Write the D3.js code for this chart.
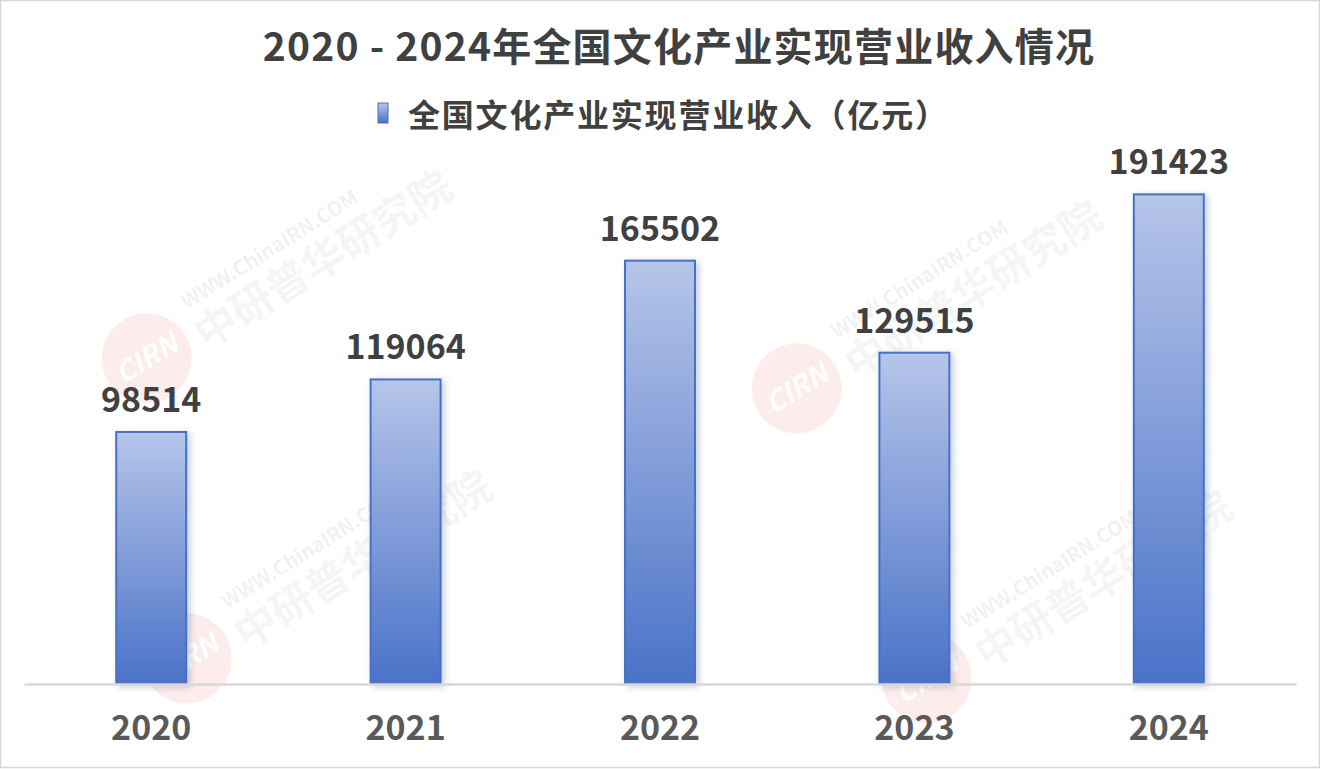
<!DOCTYPE html>
<html><head><meta charset="utf-8">
<script src="https://cdn.jsdelivr.net/npm/d3@7"></script>
<style>html,body{margin:0;padding:0;background:#fff;}svg{display:block;}</style>
</head><body>
<svg id="c" width="1320" height="769"></svg>
<script>
const years = ["2020","2021","2022","2023","2024"];
const revenue = [98514, 119064, 165502, 129515, 191423];
const titleText = "2020 - 2024年全国文化产业实现营业收入情况";
const legendText = "全国文化产业实现营业收入（亿元）";

const W = 1320, H = 769;
const svg = d3.select("#c");
const font = "'Noto Sans CJK SC','Noto Sans',sans-serif";

svg.append("rect").attr("x",0.5).attr("y",0.5).attr("width",W-1).attr("height",H-2)
  .attr("fill","#fff").attr("stroke","#d9d9d9").attr("stroke-width",1.5);

const defs = svg.append("defs");
const g = defs.append("linearGradient").attr("id","bg").attr("x1",0).attr("y1",0).attr("x2",0).attr("y2",1);
g.append("stop").attr("offset","0%").attr("stop-color","#b6c5e9");
g.append("stop").attr("offset","100%").attr("stop-color","#4a72c8");
const f = defs.append("filter").attr("id","sh").attr("x","-30%").attr("y","-10%").attr("width","160%").attr("height","120%");
f.append("feDropShadow").attr("dx",3).attr("dy",2).attr("stdDeviation",3).attr("flood-color","#1f3a7a").attr("flood-opacity",0.25);

// watermarks
const wm = [[240,300],[890,330],[280,600],[1020,620]];
wm.forEach(([x,y])=>{
  const w = svg.append("g").attr("transform",`translate(${x},${y}) rotate(-32)`).attr("opacity",0.11);
  w.append("circle").attr("cx",-110).attr("cy",0).attr("r",45).attr("fill","#e85a4f");
  w.append("text").attr("x",-110).attr("y",10).attr("text-anchor","middle").attr("font-family",font)
    .attr("font-weight","bold").attr("font-style","italic").attr("font-size",28).attr("fill","#fff").text("CIRN");
  w.append("text").attr("x",-50).attr("y",-20).attr("font-family",font).attr("font-weight","bold")
    .attr("font-size",20).attr("fill","#888").text("WWW.ChinaIRN.COM");
  w.append("text").attr("x",-55).attr("y",25).attr("font-family",font).attr("font-weight","bold")
    .attr("font-size",42).attr("fill","#aaa").text("中研普华研究院");
});

const x = d3.scaleBand().domain(years).range([24,1296]).paddingInner(0.725).paddingOuter(0.3625);
const y = d3.scaleLinear().domain([0,200000]).range([684, 684 - 252*200000/98514]);

svg.append("g").selectAll("rect").data(years).join("rect")
  .attr("x",d=>x(d)).attr("y",(d,i)=>y(revenue[i]))
  .attr("width",x.bandwidth()).attr("height",(d,i)=>y(0)-y(revenue[i]))
  .attr("fill","url(#bg)").attr("stroke","#4472c4").attr("stroke-width",2)
  .attr("filter","url(#sh)");

const ax = svg.append("g").attr("transform","translate(0,684)").call(d3.axisBottom(x).tickSize(0).tickPadding(32));
ax.select(".domain").attr("stroke","#d9d9d9").attr("stroke-width",2.5);
ax.selectAll("text").attr("font-family",font).attr("font-weight","bold").attr("font-size",34).attr("fill","#595959");

svg.append("g").selectAll("text").data(years).join("text")
  .attr("x",d=>x(d)+x.bandwidth()/2).attr("y",(d,i)=>y(revenue[i])-20)
  .attr("text-anchor","middle").attr("font-family",font).attr("font-weight","bold")
  .attr("font-size",34).attr("fill","#404040").text((d,i)=>revenue[i]);

svg.append("text").attr("x",679).attr("y",61).attr("text-anchor","middle")
  .attr("font-family",font).attr("font-weight","bold").attr("font-size",39).attr("letter-spacing",1.2)
  .attr("fill","#404040").text(titleText);

svg.append("rect").attr("x",378).attr("y",103).attr("width",10).attr("height",20)
  .attr("fill","url(#bg)").attr("stroke","#4472c4").attr("stroke-width",1);
svg.append("text").attr("x",408).attr("y",127).attr("font-family",font).attr("font-weight","bold")
  .attr("font-size",32).attr("letter-spacing",1.8).attr("fill","#404040").text(legendText);
</script>
</body></html>
